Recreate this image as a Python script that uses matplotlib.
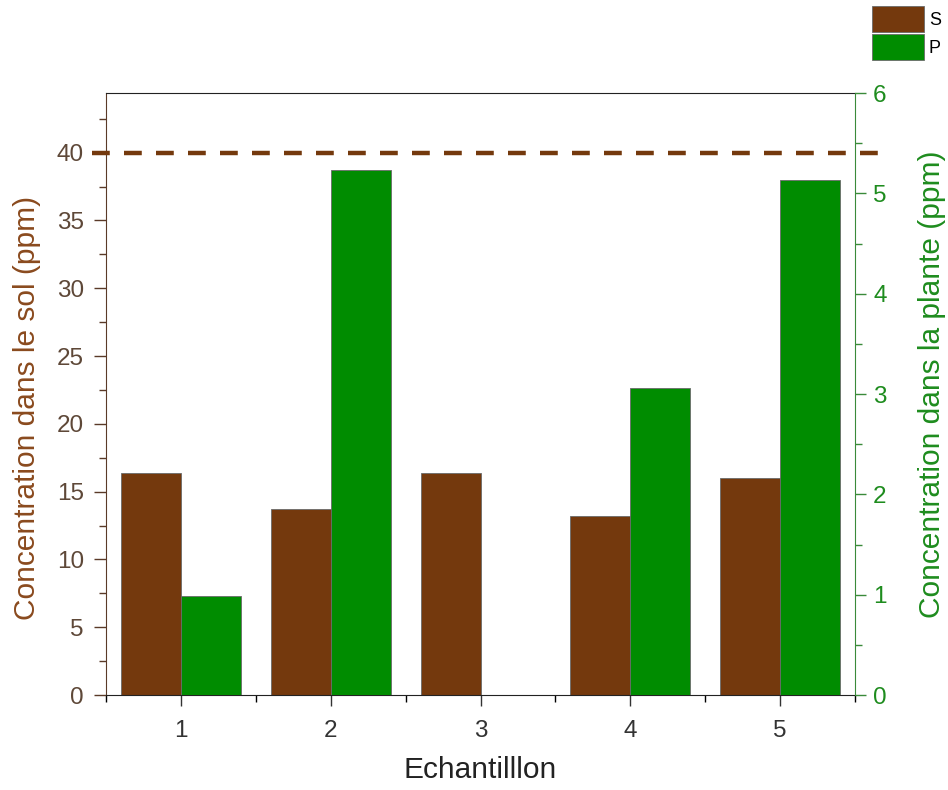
import matplotlib
matplotlib.use("Agg")
import matplotlib.pyplot as plt
import numpy as np
from matplotlib.ticker import MultipleLocator
from matplotlib.patches import Patch

plt.rcParams['font.family'] = ['Liberation Sans', 'DejaVu Sans']

samples = [1, 2, 3, 4, 5]
soil_ppm = [16.4, 13.7, 16.4, 13.2, 16.0]     # S, left axis
plant_ppm = [0.99, 5.23, 0.0, 3.06, 5.13]     # P, right axis
soil_limit = 40

brown = '#74390d'
green = '#008c00'
brown_txt = '#8a4a1e'
green_txt = '#1e8c1e'

fig = plt.figure(figsize=(9.48, 7.9), dpi=100)
ax = fig.add_axes([106/948, 1-695/790, (855-106)/948, (695-93)/790])
ax2 = ax.twinx()

x = np.array(samples, dtype=float)
w = 0.4
ax.bar(x - w/2, soil_ppm, width=w, color=brown, edgecolor='#6a6a6a', linewidth=0.6, zorder=2)
ax2.bar(x + w/2, plant_ppm, width=w, color=green, edgecolor='#6a6a6a', linewidth=0.6, zorder=2)

ax.set_xlim(0.5, 5.5)
ax.set_ylim(0, 44.4)
ax2.set_ylim(0, 6)

ax.plot([0.407, 5.713], [soil_limit, soil_limit], ls=(0, (4, 3.2)), lw=3.2,
        color=brown, clip_on=False, zorder=5)

ax.set_xticks(samples)
ax.xaxis.set_minor_locator(MultipleLocator(0.5))
ax.yaxis.set_major_locator(MultipleLocator(5))
ax.yaxis.set_minor_locator(MultipleLocator(2.5))
ax2.yaxis.set_major_locator(MultipleLocator(1))
ax2.yaxis.set_minor_locator(MultipleLocator(0.5))

ax.tick_params(axis='x', which='major', length=8, width=1, direction='out', labelsize=17.5, colors='#333333', pad=10)
ax.tick_params(axis='x', which='minor', length=5, width=1, direction='out')
ax.tick_params(axis='y', which='major', length=9, width=1, direction='out', labelsize=17.5, color='#5a3a28', labelcolor='#5e4838', pad=7)
ax.tick_params(axis='y', which='minor', length=5, width=1, direction='out', color='#5a3a28')
ax2.tick_params(axis='y', which='major', length=8, width=1, direction='out', labelsize=17.5, color='#3a8a3a', labelcolor=green_txt, pad=5)
ax2.tick_params(axis='y', which='minor', length=5, width=1, direction='out', color='#3a8a3a')

ax.spines['left'].set_color('#5a3a28')
ax2.spines['left'].set_visible(False)
ax2.spines['right'].set_color('#3a8a3a')
ax.spines['right'].set_visible(False)
for s in ('top', 'bottom'):
    ax.spines[s].set_color('#222222')
    ax2.spines[s].set_visible(False)

ax.set_xlabel('Echantilllon', fontsize=21.5, color='#222222', labelpad=10)
ax.set_ylabel('Concentration dans le sol (ppm)', fontsize=21.5, color=brown_txt)
ax2.set_ylabel('Concentration dans la plante (ppm)', fontsize=21.5, color=green_txt)
ax.yaxis.set_label_coords(-0.087, 0.477)
ax2.yaxis.set_label_coords(1.084, 0.517)

handles = [Patch(facecolor=brown, edgecolor='#6a6a6a', linewidth=0.6, label='S'),
           Patch(facecolor=green, edgecolor='#6a6a6a', linewidth=0.6, label='P')]
fig.legend(handles=handles, loc='upper left', bbox_to_anchor=(872/948, 1 - 6/790),
           frameon=False, fontsize=13, handlelength=2.9, handleheight=1.85,
           handletextpad=0.25, labelspacing=0.12, borderaxespad=0.0, borderpad=0.0)

fig.savefig('out.png', dpi=100)
